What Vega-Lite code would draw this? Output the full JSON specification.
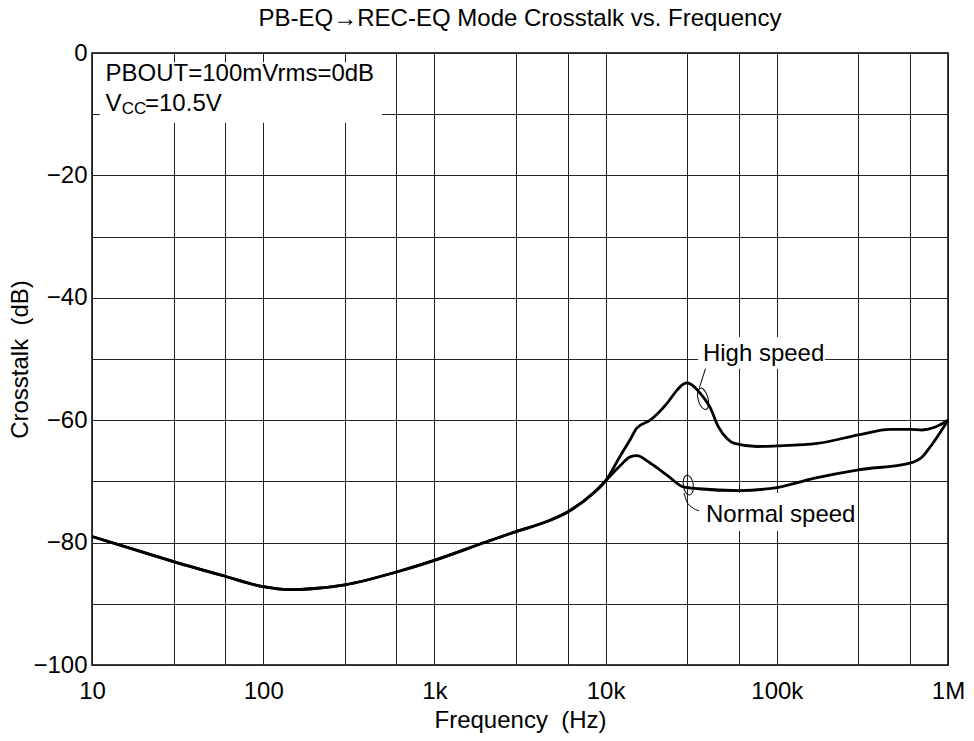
{
  "$schema": "https://vega.github.io/schema/vega-lite/v6.json",
  "width": 856,
  "height": 612,
  "autosize": "none",
  "padding": {"left": 92, "top": 53, "right": 26, "bottom": 76},
  "background": "white",
  "config": {
    "font": "Liberation Sans",
    "view": {"stroke": "black", "strokeWidth": 1.5},
    "axis": {
      "domain": false, "ticks": false, "tickSize": 0, "grid": true,
      "gridColor": "#222", "gridWidth": 1, "gridOpacity": 1,
      "labelFont": "Liberation Sans", "labelFontSize": 24, "labelColor": "black",
      "titleFont": "Liberation Sans", "titleFontSize": 24, "titleFontWeight": "normal", "titleColor": "black",
      "labelOverlap": false, "labelBound": false, "labelFlush": false
    }
  },
  "title": {
    "text": "PB-EQ→REC-EQ Mode Crosstalk vs. Frequency",
    "fontSize": 24, "fontWeight": "normal", "font": "Liberation Sans", "color": "black",
    "anchor": "middle", "frame": "group", "offset": 10
  },
  "datasets": {
    "curves": [
      {"s": "High", "f": 10, "db": -79.0}, {"s": "High", "f": 20, "db": -81.6}, {"s": "High", "f": 30, "db": -83.1},
      {"s": "High", "f": 60, "db": -85.5}, {"s": "High", "f": 100, "db": -87.2}, {"s": "High", "f": 140, "db": -87.7},
      {"s": "High", "f": 200, "db": -87.5}, {"s": "High", "f": 300, "db": -86.9}, {"s": "High", "f": 600, "db": -84.8},
      {"s": "High", "f": 1000, "db": -82.9}, {"s": "High", "f": 2000, "db": -79.9}, {"s": "High", "f": 3000, "db": -78.2},
      {"s": "High", "f": 4500, "db": -76.6}, {"s": "High", "f": 6000, "db": -75.0}, {"s": "High", "f": 8500, "db": -71.9},
      {"s": "High", "f": 10000, "db": -69.9}, {"s": "High", "f": 12200, "db": -65.8}, {"s": "High", "f": 13900, "db": -63.2},
      {"s": "High", "f": 15200, "db": -61.3}, {"s": "High", "f": 18200, "db": -60.0}, {"s": "High", "f": 22900, "db": -57.2},
      {"s": "High", "f": 26300, "db": -55.0}, {"s": "High", "f": 28500, "db": -54.1}, {"s": "High", "f": 30000, "db": -53.9},
      {"s": "High", "f": 32500, "db": -54.4}, {"s": "High", "f": 35700, "db": -55.6},
      {"s": "High", "f": 40900, "db": -58.0}, {"s": "High", "f": 45600, "db": -61.1}, {"s": "High", "f": 51200, "db": -63.0},
      {"s": "High", "f": 56500, "db": -63.8}, {"s": "High", "f": 76700, "db": -64.3}, {"s": "High", "f": 100000, "db": -64.2},
      {"s": "High", "f": 172000, "db": -63.8}, {"s": "High", "f": 300000, "db": -62.4}, {"s": "High", "f": 461000, "db": -61.5},
      {"s": "High", "f": 600000, "db": -61.5}, {"s": "High", "f": 706000, "db": -61.6}, {"s": "High", "f": 827000, "db": -61.2},
      {"s": "High", "f": 1000000, "db": -60.0},
      {"s": "Normal", "f": 10, "db": -79.0}, {"s": "Normal", "f": 20, "db": -81.6}, {"s": "Normal", "f": 30, "db": -83.1},
      {"s": "Normal", "f": 60, "db": -85.5}, {"s": "Normal", "f": 100, "db": -87.2}, {"s": "Normal", "f": 140, "db": -87.7},
      {"s": "Normal", "f": 200, "db": -87.5}, {"s": "Normal", "f": 300, "db": -86.9}, {"s": "Normal", "f": 600, "db": -84.8},
      {"s": "Normal", "f": 1000, "db": -82.9}, {"s": "Normal", "f": 2000, "db": -79.9}, {"s": "Normal", "f": 3000, "db": -78.2},
      {"s": "Normal", "f": 4500, "db": -76.6}, {"s": "Normal", "f": 6000, "db": -75.0}, {"s": "Normal", "f": 8500, "db": -71.9},
      {"s": "Normal", "f": 10000, "db": -69.9}, {"s": "Normal", "f": 12200, "db": -67.4}, {"s": "Normal", "f": 13900, "db": -66.0},
      {"s": "Normal", "f": 15200, "db": -65.8}, {"s": "Normal", "f": 18200, "db": -67.0}, {"s": "Normal", "f": 22900, "db": -69.0},
      {"s": "Normal", "f": 28500, "db": -70.9}, {"s": "Normal", "f": 35000, "db": -71.2}, {"s": "Normal", "f": 60000, "db": -71.5},
      {"s": "Normal", "f": 100000, "db": -71.0}, {"s": "Normal", "f": 164000, "db": -69.5}, {"s": "Normal", "f": 300000, "db": -68.1},
      {"s": "Normal", "f": 600000, "db": -67.0}, {"s": "Normal", "f": 706000, "db": -66.0}, {"s": "Normal", "f": 790000, "db": -64.3},
      {"s": "Normal", "f": 1000000, "db": -60.0}
    ],
    "boxes": [
      {"f": 11.1, "f2": 495, "db": -1.5, "db2": -11.4},
      {"f": 34700, "f2": 191000, "db": -46.4, "db2": -51.6},
      {"f": 36600, "f2": 294000, "db": -71.9, "db2": -78.1}
    ],
    "labels": [
      {"t": "PBOUT=100mVrms=0dB", "f": 12.0, "db": -4.6},
      {"t": "V", "f": 12.0, "db": -9.5},
      {"t": "=10.5V", "f": 20.4, "db": -9.5},
      {"t": "High speed", "f": 37000, "db": -50.3},
      {"t": "Normal speed", "f": 38600, "db": -76.6}
    ],
    "sub": [
      {"t": "CC", "f": 14.9, "db": -10.0}
    ],
    "leaders": [
      {"g": "h", "f": 38300, "db": -51.6}, {"g": "h", "f": 35300, "db": -54.7},
      {"g": "n", "f": 28700, "db": -71.9}, {"g": "n", "f": 29800, "db": -73.3},
      {"g": "n", "f": 31800, "db": -74.2}, {"g": "n", "f": 35200, "db": -74.8}
    ],
    "ringHigh": [{"f": 37100, "db": -56.5}],
    "ringNormal": [{"f": 30400, "db": -70.6}]
  },
  "encoding": {
    "x": {
      "field": "f", "type": "quantitative",
      "scale": {"type": "log", "domain": [10, 1000000], "nice": false},
      "axis": {
        "values": [10, 30, 60, 100, 300, 600, 1000, 3000, 6000, 10000, 30000, 60000, 100000, 300000, 600000, 1000000],
        "labelExpr": "datum.value == 10 ? '10' : datum.value == 100 ? '100' : datum.value == 1000 ? '1k' : datum.value == 10000 ? '10k' : datum.value == 100000 ? '100k' : datum.value == 1000000 ? '1M' : ''",
        "labelPadding": 14,
        "title": "Frequency\u00a0 (Hz)",
        "titleY": 62, "titleBaseline": "alphabetic"
      }
    },
    "y": {
      "field": "db", "type": "quantitative",
      "scale": {"domain": [-100, 0], "nice": false, "zero": false},
      "axis": {
        "values": [-100, -90, -80, -70, -60, -50, -40, -30, -20, -10, 0],
        "labelExpr": "datum.value % 20 == 0 ? format(datum.value, 'd') : ''",
        "labelPadding": 5,
        "title": "Crosstalk\u00a0 (dB)",
        "titleX": -65, "titleBaseline": "alphabetic"
      }
    }
  },
  "layer": [
    {
      "data": {"name": "boxes"},
      "mark": {"type": "rect", "fill": "white", "stroke": null},
      "encoding": {"x2": {"field": "f2"}, "y2": {"field": "db2"}}
    },
    {
      "data": {"name": "curves"},
      "mark": {"type": "line", "interpolate": "monotone", "stroke": "black", "strokeWidth": 2.8},
      "encoding": {"detail": {"field": "s"}}
    },
    {
      "data": {"name": "leaders"},
      "mark": {"type": "line", "interpolate": "monotone", "stroke": "black", "strokeWidth": 1},
      "encoding": {"detail": {"field": "g"}}
    },
    {
      "data": {"name": "ringHigh"},
      "mark": {"type": "point", "shape": "M0,-1A0.45,1,0,1,1,0,1A0.45,1,0,1,1,0,-1Z", "size": 484, "angle": -15, "filled": false, "stroke": "black", "strokeWidth": 1, "opacity": 1}
    },
    {
      "data": {"name": "ringNormal"},
      "mark": {"type": "point", "shape": "M0,-1A0.5,1,0,1,1,0,1A0.5,1,0,1,1,0,-1Z", "size": 400, "angle": -8, "filled": false, "stroke": "black", "strokeWidth": 1, "opacity": 1}
    },
    {
      "data": {"name": "labels"},
      "mark": {"type": "text", "align": "left", "baseline": "alphabetic", "fontSize": 24, "font": "Liberation Sans", "color": "black"},
      "encoding": {"text": {"field": "t"}}
    },
    {
      "data": {"name": "sub"},
      "mark": {"type": "text", "align": "left", "baseline": "alphabetic", "fontSize": 17, "font": "Liberation Sans", "color": "black"},
      "encoding": {"text": {"field": "t"}}
    }
  ]
}
